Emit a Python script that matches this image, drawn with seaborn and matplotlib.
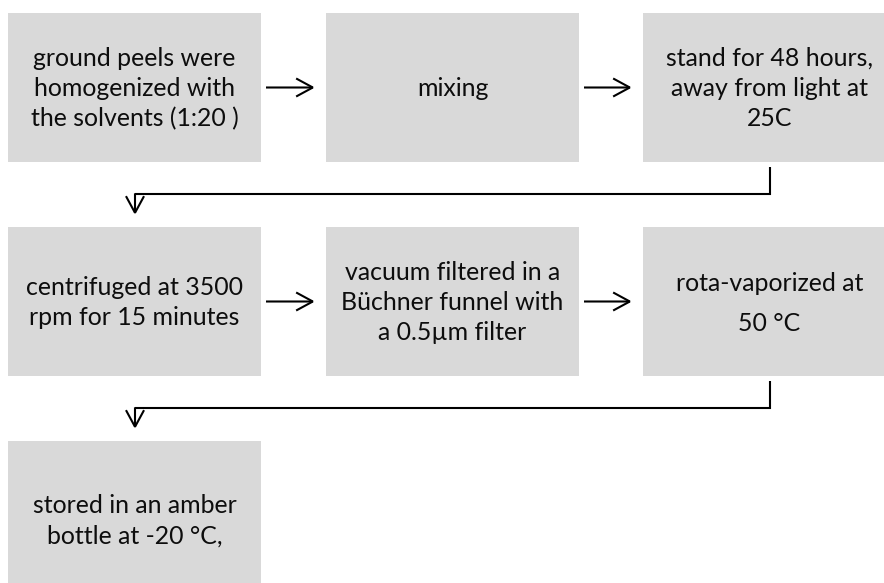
import matplotlib
matplotlib.use("Agg")
import matplotlib.pyplot as plt
from matplotlib.patches import Rectangle, FancyArrowPatch, ArrowStyle
import seaborn as sns

# ---- data ----
steps = [
    "ground peels were\nhomogenized with\nthe solvents (1:20 )",
    "mixing",
    "stand for 48 hours,\naway from light at\n25C",
    "centrifuged at 3500\nrpm for 15 minutes",
    "vacuum filtered in a\nBüchner funnel with\na 0.5µm filter",
    "rota-vaporized at\n50 °C",
    "stored in an amber\nbottle at -20 °C,",
]
line_spacings = [1.38, 1.38, 1.38, 1.38, 1.38, 1.9, 1.38]

# ---- layout ----
W, H = 884, 583
col_x = [8, 326, 643]
box_w = 253
row_y = [13, 227, 441]
box_h = 149
fill = "#d9d9d9"
lw = 1.5

sns.set_theme(style="white")
plt.rcParams["font.family"] = ["Lato", "DejaVu Sans"]

fig = plt.figure(figsize=(W / 100, H / 100), dpi=100)
ax = fig.add_axes([0, 0, 1, 1])
ax.set_xlim(0, W)
ax.set_ylim(H, 0)
ax.axis("off")

def arrow(p0, p1):
    a = FancyArrowPatch(p0, p1, arrowstyle=ArrowStyle("->", head_length=12, head_width=6.5),
                        mutation_scale=1, lw=lw, color="black", shrinkA=0, shrinkB=0,
                        joinstyle="miter", capstyle="butt")
    ax.add_patch(a)

for i, (txt, ls) in enumerate(zip(steps, line_spacings)):
    r, c = divmod(i, 3)
    x0, y0 = col_x[c], row_y[r]
    ax.add_patch(Rectangle((x0, y0), box_w, box_h, facecolor=fill, edgecolor="none"))
    yc = y0 + box_h / 2 + (1 if ls > 1.5 else 0)
    if r == 2:
        yc += 4
    ax.text(x0 + box_w / 2, yc + 1, txt, ha="center", va="center", fontsize=17.9,
            color="#0d0d0d", linespacing=ls, multialignment="center")
    # horizontal arrows
    if c < 2 and i + 1 < len(steps):
        ay = y0 + box_h / 2
        arrow((x0 + box_w + 5, ay), (col_x[c + 1] - 11, ay))
    # connector to next row
    if c == 2 and i + 1 < len(steps):
        xs = col_x[2] + box_w / 2 + 0.5
        xe = col_x[0] + box_w / 2 + 0.5
        yb = y0 + box_h
        ym = yb + 32
        ax.plot([xs, xs, xe], [yb + 5, ym, ym], color="black", lw=lw,
                solid_joinstyle="miter", solid_capstyle="butt")
        arrow((xe, ym - 0.7), (xe, row_y[r + 1] - 12))

fig.savefig("out.png", dpi=100)
